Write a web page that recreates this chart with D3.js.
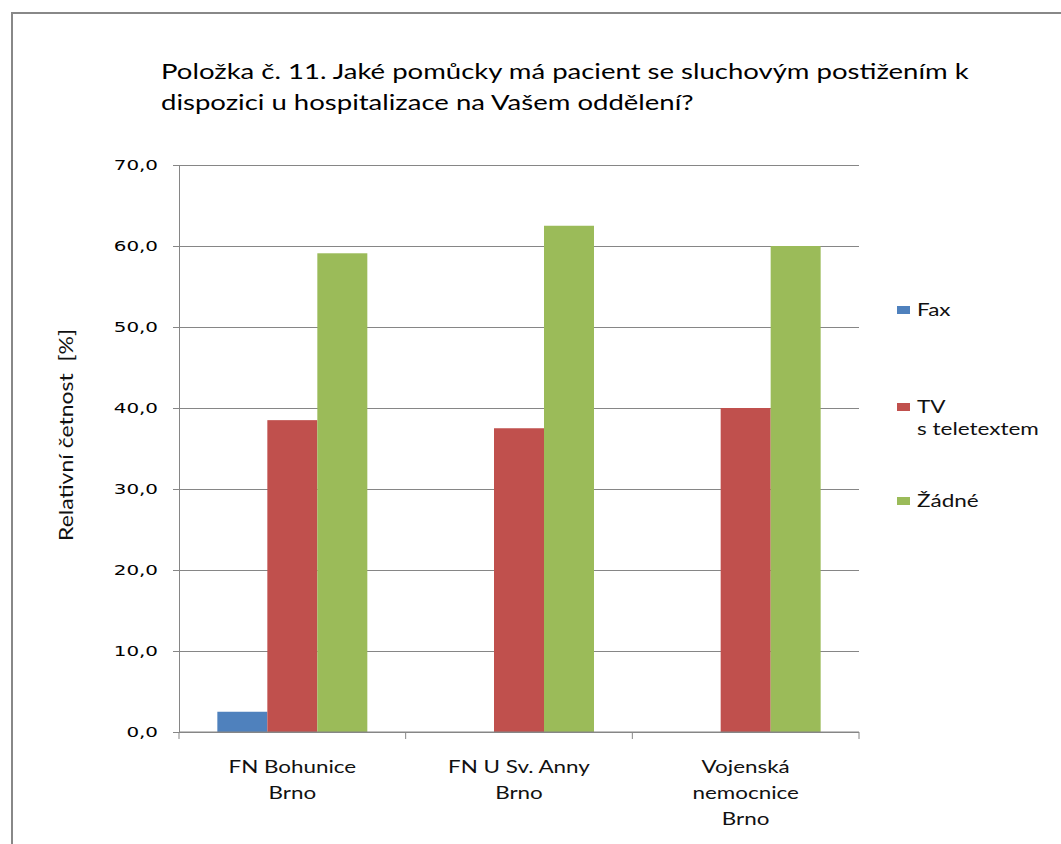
<!DOCTYPE html>
<html>
<head>
<meta charset="utf-8">
<script src="https://cdnjs.cloudflare.com/ajax/libs/d3/7.8.5/d3.min.js"></script>
<style>
  body { margin: 0; background: #fff; }
  svg { display: block; }
</style>
</head>
<body>
<div id="chart"></div>
<script>
// data
const categories = [["FN Bohunice", "Brno"], ["FN U Sv. Anny", "Brno"], ["Vojenská", "nemocnice", "Brno"]];
const seriesNames = [["Fax"], ["TV", "s teletextem"], ["Žádné"]];
const faxValues = [2.5, 0, 0];
const tvValues = [38.5, 37.5, 40.0];
const noneValues = [59.1, 62.5, 60.0];
const yTicks = [0, 10, 20, 30, 40, 50, 60, 70];
const titleLines = ["Položka č. 11. Jaké pomůcky má pacient se sluchovým postižením k",
                    "dispozici u hospitalizace na Vašem oddělení?"];
const yTitle = "Relativní četnost\u00a0\u00a0[%]";

const colors = ["#4F81BD", "#C0504D", "#9BBB59"];
const series = [faxValues, tvValues, noneValues];

const W = 1061, H = 844;
const margin = { top: 165, left: 179, right: 202, bottom: 112 };
const width = W - margin.left - margin.right;
const height = H - margin.top - margin.bottom;

// picture is stretched sideways, so text is stretched to match
function stretch(sel, sx) {
    sel.each(function() {
        const len = this.getComputedTextLength();
        d3.select(this).attr("textLength", len * sx).attr("lengthAdjust", "spacingAndGlyphs");
    });
}

const svg = d3.select("#chart").append("svg")
    .attr("width", W)
    .attr("height", H);

// outer frame
svg.append("path")
    .attr("d", "M12," + H + "V13H" + W)
    .attr("fill", "none")
    .attr("stroke", "#888")
    .attr("stroke-width", 2);

// title
svg.append("g").selectAll("text")
    .data(titleLines)
    .join("text")
    .attr("x", 161)
    .attr("y", (d, i) => 79 + i * 31)
    .attr("font-family", "Lato, sans-serif")
    .attr("font-size", 21)
    .attr("fill", "#000")
    .text(d => d)
    .call(stretch, 1.31);

const g = svg.append("g")
    .attr("transform", "translate(" + margin.left + "," + margin.top + ")");

const y = d3.scaleLinear().domain([0, 70]).range([height, 0]);
const x = d3.scaleBand().domain(d3.range(categories.length)).range([0, width]).padding(0);
const xSub = d3.scaleBand().domain(d3.range(series.length)).range([0, x.bandwidth()])
    .paddingInner(0).paddingOuter(0.767);

// gridlines
g.append("g")
    .call(d3.axisLeft(y).tickValues(yTicks).tickSize(-width).tickFormat(""))
    .call(a => a.select(".domain").remove())
    .call(a => a.selectAll("line").attr("stroke", "#868686").attr("stroke-width", 1));

// y axis with labels
g.append("g")
    .call(d3.axisLeft(y).tickValues(yTicks).tickSize(6).tickPadding(15)
        .tickFormat(d => d3.format(".1f")(d).replace(".", ",")))
    .call(a => a.select(".domain").attr("stroke", "#868686"))
    .call(a => a.selectAll("line").attr("stroke", "#868686"))
    .call(a => a.selectAll("text")
        .attr("font-family", "DejaVu Sans, Verdana, sans-serif")
        .attr("font-size", 14)
        .attr("fill", "#000")
        .call(stretch, 1.42));

// bars
series.forEach((vals, si) => {
    g.append("g").selectAll("rect")
        .data(vals)
        .join("rect")
        .attr("x", (d, i) => x(i) + xSub(si))
        .attr("width", xSub.bandwidth())
        .attr("y", d => y(d))
        .attr("height", d => height - y(d))
        .attr("fill", colors[si]);
});

// x axis
const xAxis = g.append("g")
    .attr("transform", "translate(0," + height + ")")
    .call(d3.axisBottom(x).tickSize(0).tickFormat(""))
    .call(a => a.select(".domain").attr("stroke", "#868686").attr("d", "M0,0H" + width));
xAxis.selectAll(".bound")
    .data(d3.range(categories.length + 1))
    .join("line")
    .attr("class", "bound")
    .attr("x1", i => i * x.step())
    .attr("x2", i => i * x.step())
    .attr("y1", 0)
    .attr("y2", 7)
    .attr("stroke", "#868686");

const catLabels = g.append("g").selectAll("text")
    .data(categories)
    .join("text")
    .attr("text-anchor", "middle")
    .attr("font-family", "Lato, sans-serif")
    .attr("font-size", 17.5)
    .attr("fill", "#111");
catLabels.selectAll("tspan")
    .data((d, i) => d.map(t => ({ t: t, i: i })))
    .join("tspan")
    .attr("x", d => x(d.i) + x.bandwidth() / 2)
    .attr("y", (d, j) => height + 41 + j * 26)
    .text(d => d.t);
catLabels.selectAll("tspan").call(stretch, 1.28);

// y axis title
svg.append("text")
    .attr("transform", "translate(73,435) rotate(-90)")
    .attr("text-anchor", "middle")
    .attr("font-family", "Lato, sans-serif")
    .attr("font-size", 19)
    .attr("fill", "#111")
    .attr("textLength", 212)
    .attr("lengthAdjust", "spacingAndGlyphs")
    .text(yTitle);

// legend
const legendY = [310, 407, 501];
const legend = svg.append("g").selectAll("g")
    .data(seriesNames)
    .join("g")
    .attr("transform", (d, i) => "translate(897," + legendY[i] + ")");
legend.append("rect")
    .attr("x", 0)
    .attr("y", -4)
    .attr("width", 13)
    .attr("height", 8)
    .attr("fill", (d, i) => colors[i]);
legend.append("text")
    .attr("font-family", "Lato, sans-serif")
    .attr("font-size", 18)
    .attr("fill", "#111")
    .selectAll("tspan")
    .data(d => d)
    .join("tspan")
    .attr("x", 20)
    .attr("y", (d, j) => 6 + j * 22)
    .text(d => d);
legend.selectAll("tspan").call(stretch, 1.25);
</script>
</body>
</html>
